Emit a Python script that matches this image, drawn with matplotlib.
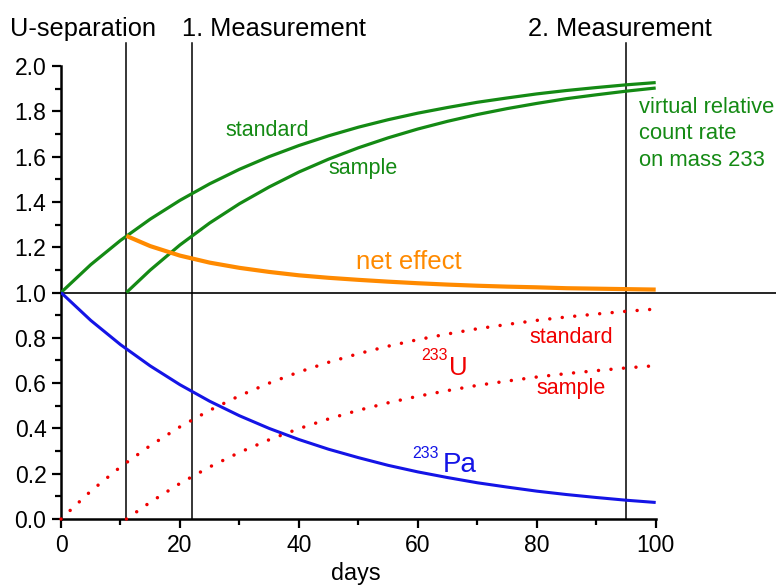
import matplotlib
matplotlib.use("Agg")
import matplotlib.pyplot as plt
from matplotlib.ticker import FixedLocator, MultipleLocator

plt.rcParams['font.family'] = ['Liberation Sans', 'DejaVu Sans']

# ---- data ----------------------------------------------------------------
days = [0, 5, 10, 15, 20, 25, 30, 35, 40, 45, 50,
        55, 60, 65, 70, 75, 80, 85, 90, 95, 100]
pa233 = [1.000, 0.877, 0.770, 0.676, 0.593, 0.520, 0.456, 0.400, 0.351, 0.308, 0.271,
         0.237, 0.208, 0.183, 0.160, 0.141, 0.123, 0.108, 0.095, 0.083, 0.073]
std_rate = [1.000, 1.123, 1.230, 1.324, 1.407, 1.480, 1.544, 1.600, 1.649, 1.692, 1.730,
            1.763, 1.792, 1.817, 1.840, 1.859, 1.877, 1.892, 1.905, 1.917, 1.927]
u_std = [0.000, 0.123, 0.230, 0.324, 0.407, 0.480, 0.544, 0.600, 0.649, 0.692, 0.730,
         0.763, 0.792, 0.817, 0.840, 0.859, 0.877, 0.892, 0.905, 0.917, 0.927]

smp_days = [11, 15, 20, 25, 30, 35, 40, 45, 50,
            55, 60, 65, 70, 75, 80, 85, 90, 95, 100]
smp_rate = [1.000, 1.099, 1.210, 1.307, 1.392, 1.466, 1.532, 1.589, 1.639,
            1.683, 1.722, 1.756, 1.786, 1.812, 1.835, 1.856, 1.873, 1.889, 1.903]
net_effect = [1.250, 1.205, 1.163, 1.132, 1.109, 1.091, 1.076, 1.065, 1.056,
              1.048, 1.041, 1.035, 1.030, 1.026, 1.023, 1.019, 1.017, 1.015, 1.013]
u_smp = [0.000, 0.074, 0.157, 0.230, 0.294, 0.350, 0.399, 0.442, 0.480,
         0.513, 0.542, 0.567, 0.590, 0.609, 0.627, 0.642, 0.655, 0.667, 0.677]

event_days = [11, 22, 95]
event_labels = ["U-separation", "1. Measurement", "2. Measurement"]

x_ticks = [0, 20, 40, 60, 80, 100]
y_ticks = [0.0, 0.2, 0.4, 0.6, 0.8, 1.0, 1.2, 1.4, 1.6, 1.8, 2.0]

# ---- styling -------------------------------------------------------------
GREEN = "#148a14"
ORANGE = "#ff8a00"
BLUE = "#1414e6"
RED = "#f00000"

W, H = 776, 585
fig = plt.figure(figsize=(W / 100, H / 100), dpi=100)


def fx(px):
    return px / W


def fy(py):
    return 1 - py / H


# axes: x=0 at px 61, x=100 at px 655.7; y=0 at px 519, y=2.1 at px 43.4
ax = fig.add_axes([fx(61), fy(519), fx(655.7) - fx(61), (519 - 43.4) / H])
ax.set_xlim(0, 100)
ax.set_ylim(0, 2.1)

for s in ("top", "right"):
    ax.spines[s].set_visible(False)
ax.spines["left"].set_bounds(0, 2.0)
ax.spines["left"].set_linewidth(1.8)
ax.spines["bottom"].set_linewidth(1.8)

ax.set_xticks(x_ticks)
ax.set_xticklabels([str(v) for v in x_ticks])
ax.set_yticks(y_ticks)
ax.set_yticklabels([f"{v:.1f}" for v in y_ticks])
ax.xaxis.set_minor_locator(MultipleLocator(10))
# odd tenths only, none above 2.0
ax.yaxis.set_minor_locator(FixedLocator([v / 10 for v in range(1, 20, 2)]))
ax.set_ylim(0, 2.1)
ax.tick_params(which="major", direction="out", length=6.5, width=1.6,
               labelsize=16.5, pad=4)
ax.tick_params(which="minor", direction="out", length=4.0, width=1.6)

# reference lines
for d in event_days:
    ax.plot([d, d], [0, 2.1], color="black", lw=1.1, clip_on=False, zorder=2)
ax.plot([0, (W - 61) / 5.947], [1.0, 1.0], color="black", lw=1.2,
        clip_on=False, zorder=2)

# curves
ax.plot(days, std_rate, color=GREEN, lw=2.3, zorder=3, solid_capstyle="butt")
ax.plot(smp_days, smp_rate, color=GREEN, lw=2.3, zorder=3, solid_capstyle="butt")
ax.plot(smp_days, net_effect, color=ORANGE, lw=3.0, zorder=4, solid_capstyle="butt")
ax.plot(days, pa233, color=BLUE, lw=2.2, zorder=3, solid_capstyle="butt")
ax.plot(days, u_std, color=RED, lw=2.5, linestyle=(0, (0.01, 3.6)),
        dash_capstyle="round", zorder=3, clip_on=False)
ax.plot(smp_days, u_smp, color=RED, lw=2.5, linestyle=(0, (0.01, 3.6)),
        dash_capstyle="round", zorder=3, clip_on=False)

# curve labels
ax.text(27.6, 1.693, "standard", color=GREEN, fontsize=15.5, va="baseline")
ax.text(44.9, 1.522, "sample", color=GREEN, fontsize=15.5, va="baseline")
ax.text(49.6, 1.104, "net effect", color=ORANGE, fontsize=18.5, va="baseline")
ax.text(78.7, 0.778, "standard", color=RED, fontsize=15.5, va="baseline")
ax.text(80.0, 0.552, "sample", color=RED, fontsize=15.5, va="baseline")
ax.text(60.5, 0.702, "233", color=RED, fontsize=11.5, va="baseline")
ax.text(65.3, 0.636, "U", color=RED, fontsize=18.5, va="baseline")
ax.text(59.1, 0.269, "233", color=BLUE, fontsize=11.5, va="baseline")
ax.text(64.2, 0.209, "Pa", color=BLUE, fontsize=20, va="baseline")

for line, base in zip(["virtual relative", "count rate", "on mass 233"],
                      [112.7, 139.3, 165.5]):
    fig.text(fx(639), fy(base), line, color=GREEN, fontsize=15.8, va="baseline")

# event labels above the plot
for lab, left in zip(event_labels, [10, 182, 528]):
    fig.text(fx(left), fy(36), lab, color="black", fontsize=18.3, va="baseline")

fig.text(fx(356), fy(580), "days", color="black", fontsize=16.8,
         ha="center", va="baseline")

fig.savefig("out.png", dpi=100)
